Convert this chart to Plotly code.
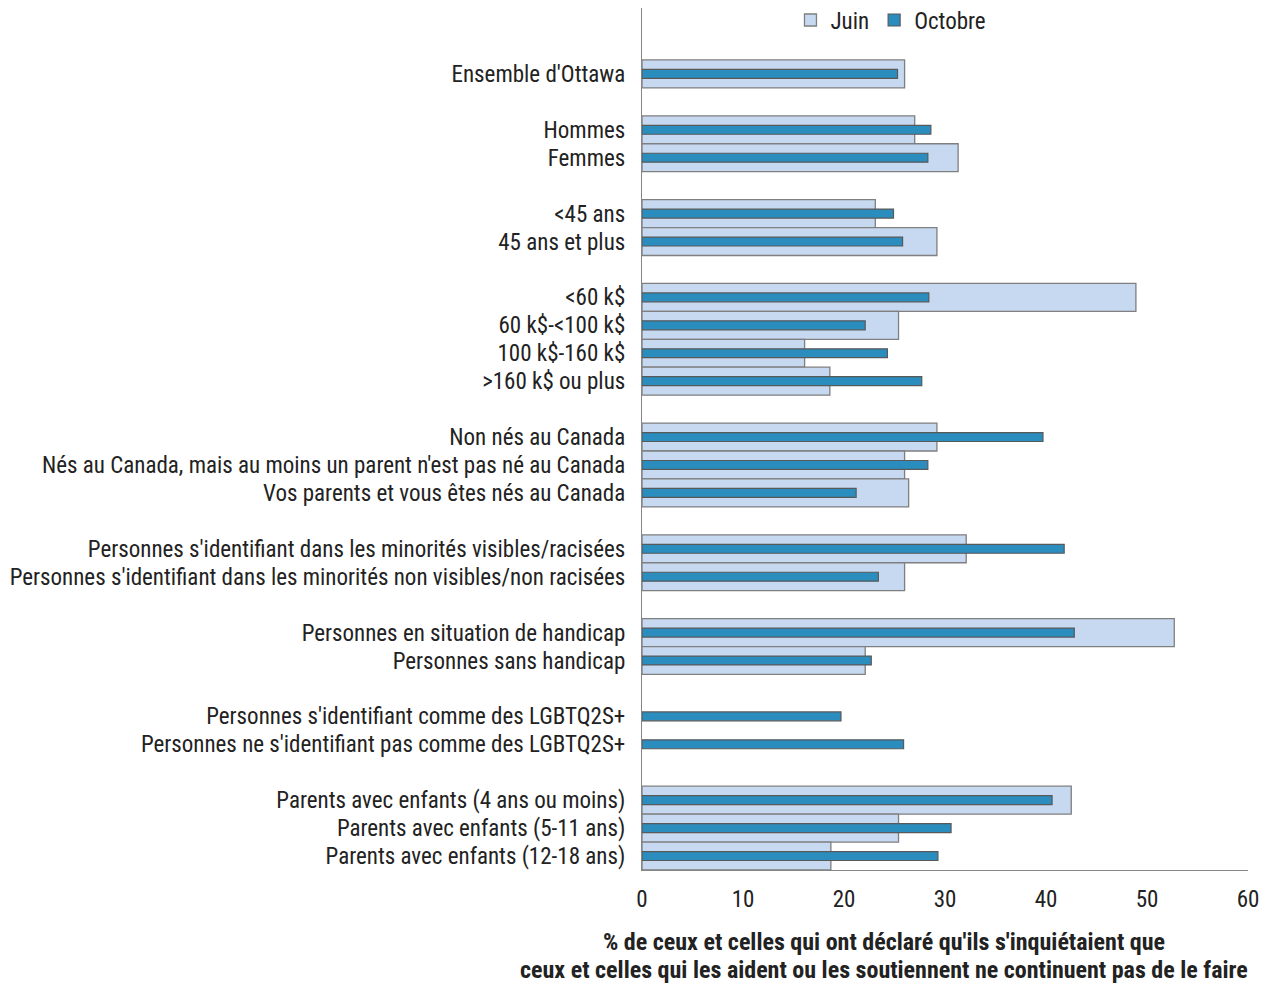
import plotly.graph_objects as go

# Groupes de catégories (un espace vide sépare chaque groupe)
groupes = [
    ["Ensemble d'Ottawa"],
    ["Hommes", "Femmes"],
    ["<45 ans", "45 ans et plus"],
    ["<60 k$", "60 k$-<100 k$", "100 k$-160 k$", ">160 k$ ou plus"],
    ["Non nés au Canada",
     "Nés au Canada, mais au moins un parent n'est pas né au Canada",
     "Vos parents et vous êtes nés au Canada"],
    ["Personnes s'identifiant dans les minorités visibles/racisées",
     "Personnes s'identifiant dans les minorités non visibles/non racisées"],
    ["Personnes en situation de handicap", "Personnes sans handicap"],
    ["Personnes s'identifiant comme des LGBTQ2S+",
     "Personnes ne s'identifiant pas comme des LGBTQ2S+"],
    ["Parents avec enfants (4 ans ou moins)", "Parents avec enfants (5-11 ans)",
     "Parents avec enfants (12-18 ans)"],
]

juin = [26.0,
        27.0, 31.3,
        23.1, 29.2,
        48.9, 25.4, 16.1, 18.6,
        29.2, 26.0, 26.4,
        32.1, 26.0,
        52.7, 22.1,
        None, None,
        42.5, 25.4, 18.7]

octobre = [25.3,
           28.6, 28.3,
           24.9, 25.8,
           28.4, 22.1, 24.3, 27.7,
           39.7, 28.3, 21.2,
           41.8, 23.4,
           42.8, 22.7,
           19.7, 25.9,
           40.6, 30.6, 29.3]

x_ticks = [0, 10, 20, 30, 40, 50, 60]

titre_x = [
    "% de ceux et celles qui ont déclaré qu'ils s'inquiétaient que",
    "ceux et celles qui les aident ou les soutiennent ne continuent pas de le faire",
]

# Positions verticales avec une ligne vide entre les groupes
categories, positions = [], []
rang = 0
for g in groupes:
    for c in g:
        categories.append(c)
        positions.append(rang)
        rang += 1
    rang += 1
dernier = positions[-1]

police = "Liberation Sans Narrow, Arial Narrow, Roboto Condensed, sans-serif"
texte = "#222222"

fig = go.Figure()
fig.add_trace(go.Bar(
    name="Juin", y=positions, x=juin, orientation="h", width=1.0,
    marker=dict(color="#c6d9f0", line=dict(color="#7f7f7f", width=1.3)),
))
fig.add_trace(go.Bar(
    name="Octobre", y=positions, x=octobre, orientation="h", width=0.32,
    marker=dict(color="#2b8cbe", line=dict(color="#595959", width=1.2)),
))

fig.update_layout(
    barmode="overlay",
    width=1286, height=986,
    margin=dict(l=642, r=38, t=8, b=116, autoexpand=False),
    plot_bgcolor="white", paper_bgcolor="white",
    font=dict(family=police, size=23, color=texte),
    showlegend=True,
    legend=dict(orientation="h", x=0.245, y=0.986, xanchor="left",
                yanchor="middle", font=dict(size=23, color=texte),
                bgcolor="rgba(0,0,0,0)", itemwidth=30,
                traceorder="normal"),
    xaxis=dict(range=[0, 60], tickvals=x_ticks, showgrid=False,
               zeroline=False, showline=True, linecolor="#868686",
               linewidth=1.3, ticks="", fixedrange=True,
               ticklabelstandoff=8,
               tickfont=dict(size=23, color=texte)),
    yaxis=dict(range=[dernier + 0.5, -2.36], tickvals=positions,
               ticktext=categories, showgrid=False, zeroline=False,
               showline=True, linecolor="#868686", linewidth=1.3,
               ticks="", ticklabelstandoff=11,
               tickfont=dict(size=23, color=texte)),
)

# Titre de l'axe horizontal, en deux lignes
for ligne, y_ligne in zip(titre_x, [-0.0835, -0.116]):
    fig.add_annotation(
        x=0.399, y=y_ligne, xref="paper", yref="paper",
        xanchor="center", yanchor="middle", showarrow=False,
        text="<b>" + ligne + "</b>",
        font=dict(family=police, size=24, color=texte),
    )

fig.write_html("out.html")
